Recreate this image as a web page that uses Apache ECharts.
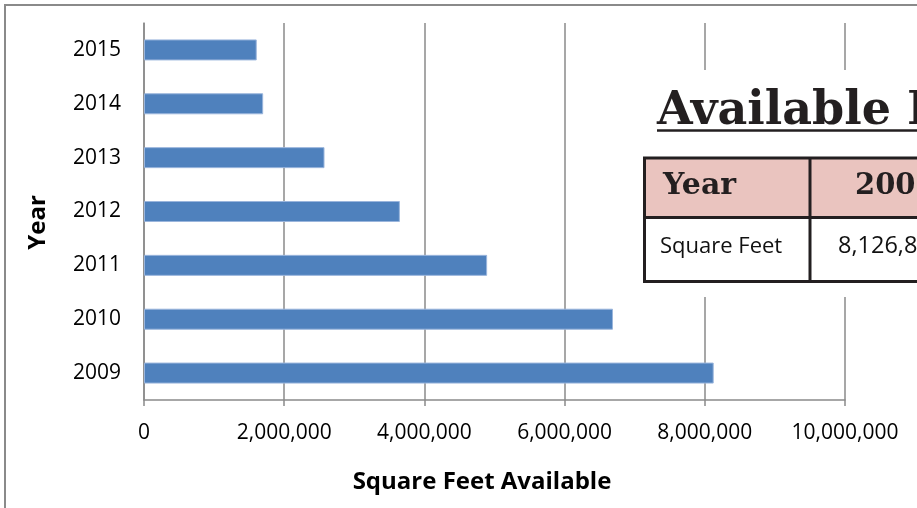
<!DOCTYPE html>
<html>
<head>
<meta charset="utf-8">
<style>
  html, body { margin: 0; padding: 0; background: #fff; }
  #chart { width: 917px; height: 508px; }
</style>
<script src="https://cdn.jsdelivr.net/npm/echarts@6/dist/echarts.min.js"></script>
</head>
<body>
<div id="chart"></div>
<script>
// Years shown on the category axis (bottom to top)
const years = ['2009', '2010', '2011', '2012', '2013', '2014', '2015'];
// Square feet available per year
const squareFeet = [8126850, 6690000, 4895000, 3650000, 2575000, 1700000, 1608000];
// Value axis ticks
const axisMin = 0;
const axisMax = 10000000;
const axisStep = 2000000;

const fmt = v => Math.round(v).toLocaleString('en-US');

const chart = echarts.init(document.getElementById('chart'), null, { renderer: 'canvas' });

const gray = '#8a8a8a';
const ink = '#231f20';
const sans = '"Open Sans", "Noto Sans", sans-serif';
const serif = '"DejaVu Serif", serif';

// Text placed by its baseline: shift the middle anchor up by a fraction of the size
const textAt = (x, baseline, size, str, font, fill) => ({
  type: 'text', z: 104, x: x, y: baseline - 0.29 * size,
  style: { text: str, font: font, fill: fill, verticalAlign: 'middle' }
});

// Summary table overlay: header row of years, one row of square feet
const tableLeft = 644.5, tableTop = 158, headerBottom = 217.5, tableBottom = 281.5;
const firstColRight = 810, colWidth = 180;
const tableWidth = firstColRight - tableLeft + colWidth * years.length;
const tableEls = [];
tableEls.push({
  type: 'rect', z: 101,
  shape: { x: tableLeft, y: tableTop, width: tableWidth, height: headerBottom - tableTop },
  style: { fill: '#eac4bf' }
});
tableEls.push({
  type: 'rect', z: 103,
  shape: { x: tableLeft, y: tableTop, width: tableWidth, height: tableBottom - tableTop },
  style: { fill: null, stroke: ink, lineWidth: 3 }
});
tableEls.push({
  type: 'line', z: 103,
  shape: { x1: tableLeft, y1: headerBottom, x2: tableLeft + tableWidth, y2: headerBottom },
  style: { stroke: ink, lineWidth: 3 }
});
tableEls.push(textAt(663, 195, 30, 'Year', 'bold 30px ' + serif, ink));
tableEls.push(textAt(660, 253, 22, 'Square Feet', '22px ' + sans, '#111'));
years.forEach((yr, i) => {
  const x0 = firstColRight + colWidth * i;
  tableEls.push({
    type: 'line', z: 103,
    shape: { x1: x0, y1: tableTop, x2: x0, y2: tableBottom },
    style: { stroke: ink, lineWidth: 3 }
  });
  tableEls.push(textAt(x0 + 45, 195, 30, yr, 'bold 29px ' + serif, ink));
  tableEls.push(textAt(x0 + 28, 253, 22, fmt(squareFeet[i]), '23.5px ' + sans, '#111'));
});

const option = {
  backgroundColor: '#fff',
  animation: false,
  grid: {
    left: 144, right: 72, top: 23, bottom: 108,
    containLabel: false,
    outerBoundsMode: 'none'
  },
  xAxis: {
    type: 'value',
    min: axisMin, max: axisMax, interval: axisStep,
    name: 'Square Feet Available',
    nameLocation: 'middle',
    nameGap: 70,
    nameTextStyle: { fontFamily: sans, fontSize: 24, fontWeight: 'bold', color: '#000', padding: [0, 25, 0, 0] },
    axisLine: { show: true, lineStyle: { color: gray, width: 1.5 } },
    axisTick: { show: true, length: 6, lineStyle: { color: gray, width: 1.5 } },
    splitLine: { show: true, lineStyle: { color: gray, width: 1.5 } },
    axisLabel: {
      margin: 23,
      fontFamily: sans, fontSize: 21, color: '#000',
      formatter: v => fmt(v)
    }
  },
  yAxis: {
    type: 'category',
    data: years,
    name: 'Year',
    nameLocation: 'middle',
    nameGap: 94,
    nameTextStyle: { fontFamily: sans, fontSize: 24, fontWeight: 'bold', color: '#000', padding: [0, 22, 0, 0] },
    axisLine: { show: true, lineStyle: { color: gray, width: 1.5 } },
    axisTick: { show: false },
    splitLine: { show: false },
    axisLabel: { margin: 23, fontFamily: sans, fontSize: 21, color: '#000', padding: [4, 0, 0, 0] }
  },
  series: [{
    type: 'bar',
    data: squareFeet,
    barWidth: 21,
    itemStyle: { color: '#4f81bd', borderColor: '#9ab5dc', borderWidth: 1 }
  }],
  graphic: [
    {
      type: 'rect', z: -1, silent: true,
      shape: { x: 5, y: 5, width: 1000, height: 600 },
      style: { fill: null, stroke: gray, lineWidth: 2 }
    },
    {
      type: 'rect', z: 100, silent: true,
      shape: { x: 636, y: 70, width: 300, height: 227 },
      style: { fill: '#fff' }
    },
    textAt(657, 125, 46, 'Available Inventory', 'bold 46px ' + serif, ink),
    {
      type: 'line', z: 104,
      shape: { x1: 657, y1: 130.5, x2: 1200, y2: 130.5 },
      style: { stroke: ink, lineWidth: 2.5 }
    },
    ...tableEls
  ]
};

chart.setOption(option);
</script>
</body>
</html>
